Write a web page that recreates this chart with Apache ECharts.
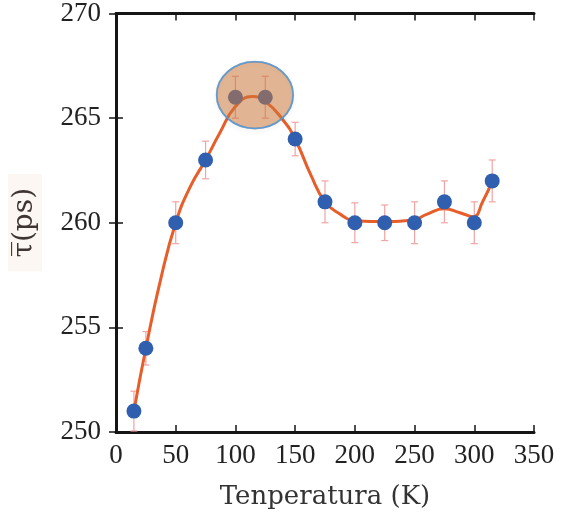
<!DOCTYPE html>
<html>
<head>
<meta charset="utf-8">
<script src="https://cdn.jsdelivr.net/npm/echarts@6/dist/echarts.min.js"></script>
<style>html,body{margin:0;padding:0;background:#fff;}#c{width:563px;height:515px;}</style>
</head>
<body>
<div id="c"></div>
<script>
// Measured points
var temps = [15, 25, 50, 75, 100, 125, 150, 175, 200, 225, 250, 275, 300, 315];
var tau = [251, 254, 260, 263, 266, 266, 264, 261, 260, 260, 260, 261, 260, 262];
var tauErr = [0.95, 0.8, 1.0, 0.9, 1.0, 1.0, 0.8, 1.0, 0.95, 0.85, 1.0, 1.0, 1.0, 1.0];
// Fitted curve
var curveT = [15, 25, 37, 50, 62, 75, 87, 100, 114, 125, 140, 150, 163, 175, 188, 200, 225, 250, 260, 275, 288, 299, 307, 315];
var curveTau = [251, 254, 257.2, 260, 261.7, 263, 264.3, 265.55, 266.03, 265.8, 264.9, 264, 262.3, 261, 260.4, 260.1, 260.06, 260.16, 260.4, 260.67, 260.48, 260.29, 261.0, 262];
// Highlight ellipse: center (T, tau) and radii in data units
var highlight = [[116.3, 266.1, 32, 1.59]];
var xTicks = {min: 0, max: 350, interval: 50};
var yTicks = {min: 250, max: 270, interval: 5};
var xTitle = 'Tenperatura (K)';
var yTitle = 'τ\u0305(ps)';

var chart = echarts.init(document.getElementById('c'), null, {renderer: 'canvas'});
var serif = 'Liberation Serif';
var axisLine = {show: true, lineStyle: {color: '#151515', width: 3}};
var tick = {show: true, inside: true, length: 7, lineStyle: {color: '#151515', width: 1.5}};

function zip(a, b) { return a.map(function (v, i) { return [v, b[i]]; }); }

chart.setOption({
  animation: false,
  grid: {left: 114, right: 29, top: 13, bottom: 82, containLabel: false},
  xAxis: [
    {type: 'value', min: xTicks.min, max: xTicks.max, interval: xTicks.interval, position: 'bottom',
     axisLine: axisLine, axisTick: tick, splitLine: {show: false},
     axisLabel: {fontFamily: serif, fontSize: 27, color: '#222', margin: 10},
     name: xTitle, nameLocation: 'middle', nameGap: 52,
     nameTextStyle: {fontFamily: 'DejaVu Serif', fontSize: 26, color: '#333'}},
    {type: 'value', min: xTicks.min, max: xTicks.max, interval: xTicks.interval, position: 'top',
     axisLine: axisLine, axisTick: tick, splitLine: {show: false}, axisLabel: {show: false}}
  ],
  yAxis: [
    {type: 'value', min: yTicks.min, max: yTicks.max, interval: yTicks.interval, position: 'left',
     axisLine: axisLine, axisTick: tick, splitLine: {show: false},
     axisLabel: {fontFamily: serif, fontSize: 27, color: '#222', margin: 15},
     name: yTitle, nameLocation: 'middle', nameGap: 74, nameRotate: 90,
     nameTextStyle: {fontFamily: 'DejaVu Serif', fontSize: 28, color: '#3e3432',
       backgroundColor: 'rgba(245,228,212,0.3)', padding: [3, 14, 3, 14]}},
    {type: 'value', min: yTicks.min, max: yTicks.max, interval: yTicks.interval, position: 'right',
     axisLine: axisLine, axisTick: tick, splitLine: {show: false}, axisLabel: {show: false}}
  ],
  series: [
    {type: 'custom', name: 'err', z: 1,
     data: temps.map(function (t, i) { return [t, tau[i], tauErr[i]]; }),
     renderItem: function (params, api) {
       var x = api.value(0), y = api.value(1), e = api.value(2);
       var top = api.coord([x, y + e]), bot = api.coord([x, y - e]);
       var cw = 3.5;
       var st = {stroke: '#f2a3a3', lineWidth: 1.2};
       return {type: 'group', children: [
         {type: 'line', shape: {x1: top[0], y1: top[1], x2: bot[0], y2: bot[1]}, style: st},
         {type: 'line', shape: {x1: top[0] - cw, y1: top[1], x2: top[0] + cw, y2: top[1]}, style: st},
         {type: 'line', shape: {x1: bot[0] - cw, y1: bot[1], x2: bot[0] + cw, y2: bot[1]}, style: st}
       ]};
     }},
    {type: 'line', name: 'fit', z: 2, data: zip(curveT, curveTau), smooth: 0.5, showSymbol: false,
     lineStyle: {color: '#e85e2a', width: 3}},
    {type: 'scatter', name: 'tau', z: 3, data: zip(temps, tau), symbol: 'circle', symbolSize: 15,
     itemStyle: {color: '#2f5fae', opacity: 1}},
    {type: 'custom', name: 'highlight', z: 4, data: highlight,
     renderItem: function (params, api) {
       var c = api.coord([api.value(0), api.value(1)]);
       var s = api.size([api.value(2), api.value(3)]);
       var sh = {cx: c[0], cy: c[1], rx: s[0], ry: s[1]};
       return {type: 'group', children: [
         {type: 'ellipse', shape: sh,
          style: {fill: 'none', stroke: 'rgba(0,0,0,0.25)', lineWidth: 2,
            shadowBlur: 5, shadowColor: 'rgba(0,0,0,0.35)', shadowOffsetY: 2}},
         {type: 'ellipse', shape: sh,
          style: {fill: 'rgba(200,118,58,0.55)', stroke: '#5c9bd6', lineWidth: 1.5}}
       ]};
     }}
  ]
});
</script>
</body>
</html>
